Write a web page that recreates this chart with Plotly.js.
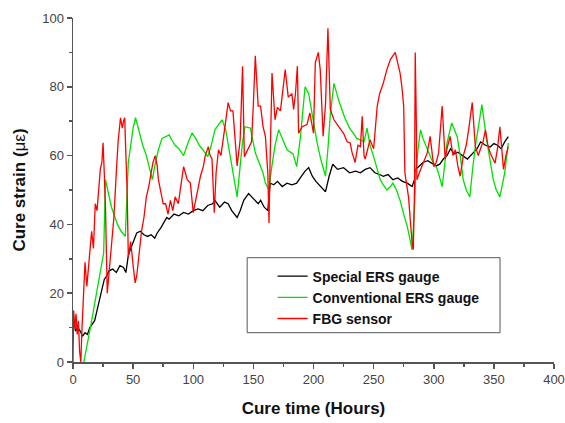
<!DOCTYPE html>
<html>
<head>
<meta charset="utf-8">
<script src="https://cdn.plot.ly/plotly-3.0.1.min.js"></script>
<style>html,body{margin:0;padding:0;background:#fff;}#chart{width:565px;height:423px;}</style>
</head>
<body>
<div id="chart"></div>
<script>
// Series names
const seriesNames = ["Special ERS gauge", "Conventional ERS gauge", "FBG sensor"];

// Special ERS gauge (hours, strain)
const specialHours = [0,1,2,4,6,8,10,12,14,16,18,20,22,24,26,28,30,33,36,39,42,44,45,46,48,50,53,56,59,62,65,68,70,73,76,78,80,84,88,92,96,100,104,108,112,116,118,122,126,129,132,134,136.5,139,142,146,150,154,156,159,162,164,167,170,174,178,182,186,190,193,196,199,202,206,210,213,216,220,225,230,235,239,243,247,251,255,258,262,266,270,274,278,282,284,285,288,291,295,299,302,305,308,311,314,317,320,324,328,332,336,339,343,347,350,353,356,359,362];
const specialStrain = [10,12,9,10,9,7.5,8.5,8,10,11,12,15,18,21,24,25,26.5,27,26,28,27.5,26,29,31,33,35,37.5,38,37,36.5,37,36,37.5,39,41,42,41.5,43,42.5,43.5,43,44,44.5,44,45.5,46,47,45,46.5,46,44,43,42,44,47,49,47.5,46,47,45,44,52,51.5,52.5,51,52,51.5,52,54,55.5,56.5,54,52.5,51,49.5,54,57.5,56,56.5,55,55.5,55,56,56.5,55,54.5,54,54.5,53,53.5,52.5,52,51,53,56,57,58,58.5,57.5,57,57.5,59,60,62,60.5,61,60,59,60.5,62,64,63,62.5,63.5,63,62,64,65.5];

// Conventional ERS gauge
const convHours = [9,12,15,18,21,24,25.5,27,29,32,35,37,40,43.5,45,46,48,50,52,55,58,61,64,66,68,71,74,77,80,82,85,88,92,96,99,102,105,108,112,115,118,121,124,127,130,133,136.5,139,141,143,147.5,151.6,155,158,160,163,165,168,171,174,178,183,186,189,191,193,196,199,203,206,210,212,214,217,221,226,230,233,236,239,242,244.5,247,250,253,255.5,258,261,264,266,269,272,275,278,280,282,284,285,287,289,291,294,298,303,307,309,311,315,319.5,322,324.5,327,330,332,334.5,337,340,344,347,349.5,352,355,359,362];
const convStrain = [0,5,11,17,23,29,31.7,53,50,45,42,40,38,36.5,50,58,63,68,71,67,63,60,56,53,57,61.7,65,65.6,66,64.6,63,62,60,64,66.6,65,63,61.7,59.7,63,67.5,69,70.4,67.5,61,55,48,57,64,68.4,68,60.8,57.8,55,52,50,56,63,67.5,65,61.7,60.5,56.8,65,73,80,78,72,63.7,59,54,62,72,81,76,71,68,66.5,65,64.6,64,68,63,59.7,56,53,51.5,50,51,52,50,47,43,39.4,36,32.6,45,55,62,67.5,65,62.6,59,56,51,57,63.7,69.5,65.5,60,53,50,48,55,62.6,68,74.8,64.6,58,53,50,48,55,63.7];

// FBG sensor
const fbgHours = [0,0.5,1.5,2.5,3.5,4.5,5.5,6.5,7.5,8.5,10,11.5,13,14,15.5,17,18.5,20,21.5,22.7,24,25,26,27,28.5,30,32,34,36,37.5,39.5,41,42,43,44,45,46,48,50,51.7,53,55,57,59,61,63,65,66.5,68.4,70,71,73,75,77,79,81,83,85,87.6,90,92,95,97.6,100,102,104.5,106,108.5,110,112.5,114,115.6,117.5,119,121,123,125,127,129,131,133,135,136.5,139,141,142.5,145,148.5,150,151.6,154,156,158,160,162,163,164,165.5,168,170,172.5,174,176.5,179,182,183.5,185,186.6,187.6,190.5,194.6,197,200,201.5,204,205.6,208,210,212,214,217,221,225,228,230.5,232,234.6,237,239,240.5,242,243,245,247,250,253,255,258,261,264,268,270,272,273.5,275,276,279,282,283,284,284.6,285.5,286,288,290,292,294.5,297,300,302,304,307,309.5,311,313.6,316,318,320,322,324.6,327,329,332,334.6,337,338.6,341,343,345,347,349,351,353,355,358,360,362];
const fbgStrain = [0,15,10,14,8,12,3,0,10,20,29,22,28,31.7,38,33,46,44,52,56,58,63.7,55,45,20,26,33,42,55,64,71,68,70,71,60,50,30.6,35,28,23,25,32,38,42,48,51,55,58,60,57,53,49,46,46,43,47,44,48,46,52,56.8,53,52,43.4,47,51,54,57,60,62.6,60,59,43.4,55,61.7,60,64.6,70,75.4,73,73,65,57,64.6,86,59.7,61.7,64,75,89,74.4,74.4,68.5,65.6,55,40.4,60,84,70.4,74,73,78,85,77,78,73.4,78,86,66.5,68.4,69,72.4,66.5,87,90,85,65.6,75,97,73.4,70.4,68.4,66.5,64,63.7,61,58,63,62.6,71.4,60,59,62,64.6,62,74.4,78,81,85,88,90,87,84,80,74.4,55,48,34.6,32.7,50,90,70,53,55,56.8,58,60.7,65.6,56.8,58,60.7,74.4,59,62,65.6,60,61.7,57,54,60,63,67.5,75.4,62.6,60,61.7,64,67.5,63,60.7,59,57.8,62,68.4,56,60,62.6];

const colors = ["#000000", "#00e000", "#ff0000"];
const xs = [specialHours, convHours, fbgHours];
const ys = [specialStrain, convStrain, fbgStrain];

const traces = seriesNames.map((n, i) => ({
  type: "scatter", mode: "lines", name: n,
  x: xs[i], y: ys[i],
  line: {color: colors[i], width: 1.3}
}));

const axisCommon = {
  showline: true, linecolor: "#555", linewidth: 1.5,
  ticks: "outside", ticklen: 5, tickwidth: 1.5, tickcolor: "#555",
  showgrid: false, zeroline: false, mirror: false,
  tickfont: {family: "Liberation Sans, Arial, sans-serif", size: 13, color: "#444"}
};

const layout = {
  width: 565, height: 423,
  margin: {l: 73, r: 11, t: 18, b: 61},
  paper_bgcolor: "#fff", plot_bgcolor: "#fff",
  showlegend: true,
  font: {family: "Liberation Sans, Arial, sans-serif"},
  xaxis: Object.assign({}, axisCommon, {
    range: [0, 400], dtick: 50, tick0: 0,
    minor: {ticks: "outside", dtick: 25, ticklen: 3, tickwidth: 1.5, tickcolor: "#555"},
    title: {text: "<b>Cure time (Hours)</b>", font: {size: 17, color: "#111"}, standoff: 16}
  }),
  yaxis: Object.assign({}, axisCommon, {
    range: [0, 100], dtick: 20, tick0: 0,
    minor: {ticks: "outside", dtick: 10, ticklen: 3, tickwidth: 1.5, tickcolor: "#555"},
    title: {text: "<b>Cure strain (</b>με<b>)</b>", font: {size: 17, color: "#111"}, standoff: 12}
  }),
  legend: {
    x: 0.415, y: 0.295, xanchor: "left", yanchor: "top",
    bgcolor: "rgba(0,0,0,0)", borderwidth: 0,
    font: {size: 14, color: "#111", weight: "bold"},
    tracegroupgap: 0
  },
  shapes: [{
    type: "rect", xref: "paper", yref: "paper",
    x0: 0.3621, x1: 0.8878, y0: 0.0852, y1: 0.3032,
    line: {color: "#555", width: 1}, fillcolor: "#fff", layer: "below"
  }]
};

Plotly.newPlot("chart", traces, layout, {displayModeBar: false, staticPlot: true});
</script>
</body>
</html>
